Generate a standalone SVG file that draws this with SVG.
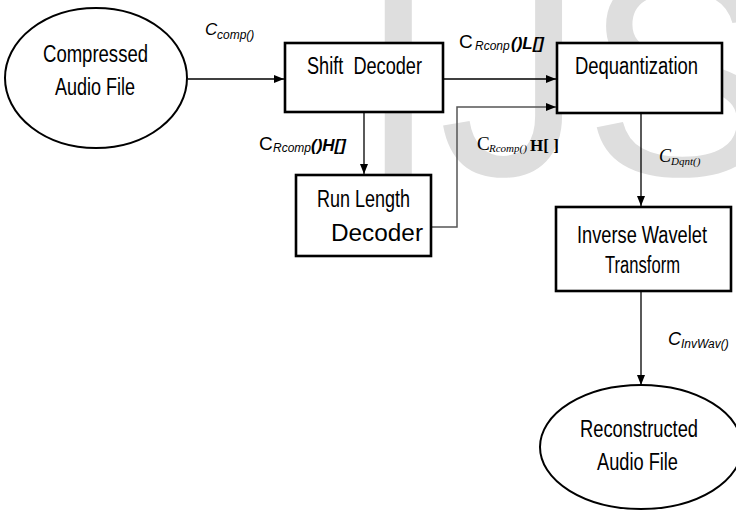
<svg xmlns="http://www.w3.org/2000/svg" width="736" height="512" viewBox="0 0 736 512">
<style>
.box{fill:#fff;stroke:#000;stroke-width:2.6}
.ell{fill:#fff;stroke:#000;stroke-width:2}
.nt{font-family:"Liberation Sans",Arial,sans-serif;font-size:23px;fill:#000}
.ln{fill:none;stroke:#000;stroke-width:1.3}
.lg{fill:none;stroke:#555;stroke-width:1.5}
.ls{font-family:"Liberation Sans",Arial,sans-serif;font-style:italic;fill:#000}
.lr{font-family:"Liberation Serif","Times New Roman",serif;font-style:italic;fill:#000}
.wm{font-family:"Liberation Sans",Arial,sans-serif;font-size:290px;fill:#dedede}
</style>
<defs>
<marker id="ah" markerUnits="userSpaceOnUse" markerWidth="10" markerHeight="8" refX="10" refY="4" orient="auto">
<path d="M0,0 L10,4 L0,8 Z" fill="#000"/>
</marker>
</defs>
<rect width="736" height="512" fill="#fff"/>
<g id="watermark"><text class="wm" x="358" y="175">IJS</text></g>

<g id="connectors">
<line class="ln" x1="188" y1="79" x2="284" y2="79" marker-end="url(#ah)"/>
<line class="ln" x1="444" y1="79" x2="556" y2="79" marker-end="url(#ah)"/>
<line class="ln" x1="364" y1="112" x2="364" y2="174" marker-end="url(#ah)"/>
<polyline class="lg" points="431,227 457,227 457,107 556,107" marker-end="url(#ah)"/>
<line class="ln" x1="641" y1="114" x2="641" y2="206" marker-end="url(#ah)"/>
<line class="ln" x1="641" y1="292" x2="641" y2="385" marker-end="url(#ah)"/>
</g>

<g id="labels">
<text id="lbl-comp" class="ls" x="205" y="35" font-size="17">C<tspan x="217" y="39" font-size="12">comp()</tspan></text>
<text id="lbl-L" class="ls" x="459" y="48" font-size="19"><tspan font-style="normal">C</tspan><tspan x="475" y="50" font-size="12">Rconp</tspan><tspan x="511" y="49" font-size="17" font-weight="bold">()L[]</tspan></text>
<text id="lbl-Hl" class="ls" x="259" y="150" font-size="19"><tspan font-style="normal">C</tspan><tspan x="273" y="152" font-size="12">Rcomp</tspan><tspan x="311" y="151" font-size="17" font-weight="bold">()H[]</tspan></text>
<text id="lbl-Hr" class="lr" x="477" y="150" font-size="19"><tspan font-style="normal">C</tspan><tspan x="489" y="152" font-size="11">Rcomp()</tspan><tspan x="530" y="151" font-size="17" font-style="normal" font-weight="bold">H[ ]</tspan></text>
<text id="lbl-Dqnt" class="lr" x="659" y="162" font-size="18">C<tspan x="671" y="165" font-size="11">Dqnt()</tspan></text>
<text id="lbl-InvWav" class="ls" x="668" y="345" font-size="18">C<tspan x="681" y="348" font-size="12">InvWav()</tspan></text>
</g>

<g id="compressed">
<ellipse class="ell" cx="96" cy="78" rx="91" ry="70"/>
<text class="nt" x="43" y="62" textLength="105" lengthAdjust="spacingAndGlyphs">Compressed</text>
<text class="nt" x="55" y="95" textLength="80" lengthAdjust="spacingAndGlyphs">Audio File</text>
</g>
<g id="shift">
<rect class="box" x="285" y="43" width="158" height="69"/>
<text class="nt" x="307" y="74" textLength="115" lengthAdjust="spacingAndGlyphs">Shift&#160; Decoder</text>
</g>
<g id="dequant">
<rect class="box" x="557" y="43" width="165" height="70"/>
<text class="nt" x="575" y="74" textLength="123" lengthAdjust="spacingAndGlyphs">Dequantization</text>
</g>
<g id="runlength">
<rect class="box" x="296" y="175" width="135" height="81"/>
<text class="nt" x="317" y="207" textLength="93" lengthAdjust="spacingAndGlyphs">Run Length</text>
<text class="nt" x="331" y="241" font-size="25" textLength="92" lengthAdjust="spacingAndGlyphs">Decoder</text>
</g>
<g id="invwav">
<rect class="box" x="556" y="207" width="175" height="84"/>
<text class="nt" x="577" y="243" textLength="130" lengthAdjust="spacingAndGlyphs">Inverse Wavelet</text>
<text class="nt" x="605" y="273" textLength="75" lengthAdjust="spacingAndGlyphs">Transform</text>
</g>
<g id="reconstructed">
<ellipse class="ell" cx="641" cy="447" rx="101" ry="62"/>
<text class="nt" x="580" y="437" textLength="118" lengthAdjust="spacingAndGlyphs">Reconstructed</text>
<text class="nt" x="597" y="470" textLength="81" lengthAdjust="spacingAndGlyphs">Audio File</text>
</g>
</svg>
